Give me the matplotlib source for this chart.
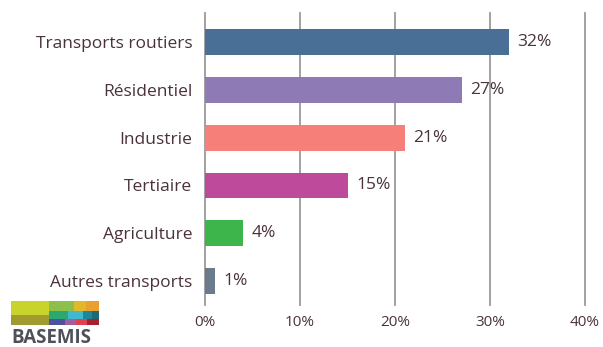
import matplotlib.pyplot as plt
from matplotlib.patches import Rectangle

plt.rcParams['font.family'] = ['Open Sans', 'DejaVu Sans']

sectors = ["Transports routiers", "Résidentiel", "Industrie", "Tertiaire",
           "Agriculture", "Autres transports"]
shares = [32, 27, 21, 15, 4, 1]
colors = ["#4a6f96", "#8e7ab4", "#f77f7a", "#bd4a9b", "#3db54a", "#6b7b8c"]
ticks = [0, 10, 20, 30, 40]

text_col = "#4a3239"

fig = plt.figure(figsize=(6.03, 3.47), dpi=100)
ax = fig.add_axes([205 / 603, 42 / 347, 380 / 603, 292 / 347])

ypos = list(range(len(sectors)))
ax.barh(ypos, shares, height=0.54, color=colors, zorder=3)
for y, v in zip(ypos, shares):
    ax.text(v + 0.9, y, f"{v}%", va="center", ha="left", fontsize=12.5,
            color=text_col)

ax.set_xlim(0, 40)
ax.set_ylim(5.5, -0.607)
ax.set_yticks(ypos)
ax.set_yticklabels(sectors, fontsize=12.5, color=text_col)
ax.set_xticks(ticks)
ax.set_xticklabels([f"{t}%" for t in ticks], fontsize=11, color=text_col)
ax.tick_params(length=0)
ax.tick_params(axis="y", pad=9)
ax.tick_params(axis="x", pad=7)
for t in ticks:
    ax.axvline(t, color="#9a9a9a", lw=1.3, zorder=1, clip_on=False)
for s in ax.spines.values():
    s.set_visible(False)

# BASEMIS logo: colored blocks over the name
lg = fig.add_axes([11 / 603, 0, 90 / 603, 47 / 347])
lg.set_xlim(0, 270)
lg.set_ylim(141, 0)
lg.axis("off")
blocks = [
    (0, 4, 115, 42, "#c8d42c"), (0, 46, 115, 30, "#a09a30"),
    (115, 4, 74, 28, "#8cc04a"), (189, 4, 36, 28, "#e0b82a"),
    (225, 4, 40, 28, "#e8a030"),
    (115, 32, 57, 24, "#2aa870"), (172, 32, 43, 24, "#40b8d0"),
    (215, 32, 27, 24, "#1a8898"), (242, 32, 23, 24, "#1f6878"),
    (115, 56, 47, 20, "#5050a0"), (162, 56, 33, 20, "#a060a0"),
    (195, 56, 34, 20, "#e04050"), (229, 56, 36, 20, "#a82030"),
]
for x0, y0, w, h, c in blocks:
    lg.add_patch(Rectangle((x0, y0), w, h, color=c, lw=0))
lg.text(0, 128, "BASEMIS", fontsize=13.5, fontweight="bold", color="#50505a",
        va="baseline", ha="left")

fig.savefig("out.png", dpi=100, facecolor="white")
